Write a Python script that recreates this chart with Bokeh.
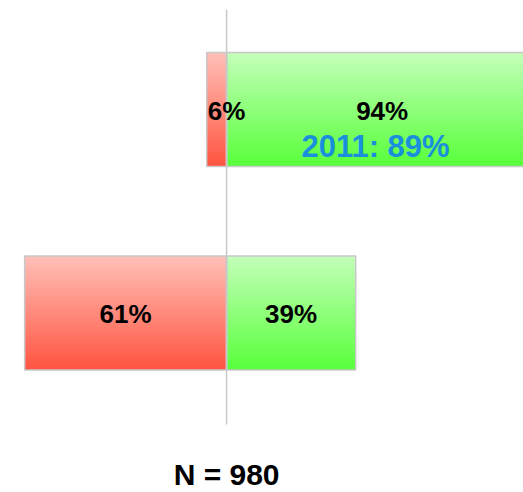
from bokeh.plotting import figure
from bokeh.models import Range1d, ColumnDataSource
from bokeh.core.properties import value
from bokeh.embed import file_html
from bokeh.resources import INLINE

# Rows from top to bottom; share of "no" (left, red) and "yes" (right, green)
rows = [1, 0]
no_share = [6, 61]
yes_share = [94, 39]
prev_year_label = ["2011: 89%", ""]
sample_label = "N = 980"

BAR_H = 0.56
FONT = value("Liberation Sans")
N_STRIPS = 40

p = figure(width=523, height=492, output_backend="svg", toolbar_location=None,
           x_range=Range1d(-68.3, 89.7), y_range=Range1d(-0.882, 1.536),
           min_border=0, min_border_left=0, min_border_right=0,
           min_border_top=0, min_border_bottom=0)
p.axis.visible = False
p.grid.visible = False
p.outline_line_color = None
p.background_fill_color = "white"


def lerp(c0, c1, t):
    return "#%02x%02x%02x" % tuple(int(round(a + (b - a) * t)) for a, b in zip(c0, c1))


RED_TOP, RED_BOT = (255, 192, 184), (255, 84, 64)
GRN_TOP, GRN_BOT = (196, 255, 186), (88, 255, 58)

# vertical gradient fills built from overlapping horizontal strips
strips = dict(left=[], right=[], top=[], bottom=[], color=[])
for y, neg, pos in zip(rows, no_share, yes_share):
    y0 = y - BAR_H / 2
    y1 = y + BAR_H / 2
    step = BAR_H / N_STRIPS
    for k in range(N_STRIPS):
        t = 1 - (k + 0.5) / N_STRIPS
        b = y0 + k * step
        tp = min(b + 3 * step, y1)
        strips["left"] += [-neg, 0]
        strips["right"] += [0, pos]
        strips["bottom"] += [b, b]
        strips["top"] += [tp, tp]
        strips["color"] += [lerp(RED_TOP, RED_BOT, t), lerp(GRN_TOP, GRN_BOT, t)]
p.quad(left="left", right="right", top="top", bottom="bottom", source=ColumnDataSource(strips),
       fill_color="color", line_color=None)

# bar outlines
bars = ColumnDataSource(dict(
    left=[-n for n in no_share] + [0] * len(rows),
    right=[0] * len(rows) + yes_share,
    top=[y + BAR_H / 2 for y in rows] * 2,
    bottom=[y - BAR_H / 2 for y in rows] * 2,
))
p.quad(left="left", right="right", top="top", bottom="bottom", source=bars,
       fill_color=None, line_color="#c8c8c8", line_width=1.5)

# zero line
p.segment(x0=[0], x1=[0], y0=[-0.548], y1=[1.49], line_color="#c8c8c8", line_width=1.5)

# value labels
neg_x = [-n / 2 for n in no_share]
neg_off = [10 if n < 10 else 0 for n in no_share]
labels = ColumnDataSource(dict(
    x=neg_x + [p_ / 2 for p_ in yes_share],
    y=rows + rows,
    text=[f"{n}%" for n in no_share] + [f"{v}%" for v in yes_share],
    xo=neg_off + [0] * len(rows),
))
p.text(x="x", y="y", text="text", x_offset="xo", source=labels, text_align="center",
       text_baseline="middle", text_font=FONT, text_font_style="bold",
       text_font_size="26px", text_color="black", y_offset=1)

prev = ColumnDataSource(dict(
    x=[v / 2 - 2 for v in yes_share], y=rows, text=prev_year_label,
))
p.text(x="x", y="y", text="text", source=prev, text_align="center", text_baseline="middle",
       text_font=FONT, text_font_style="bold", text_font_size="31px",
       text_color="#1a8fdc", y_offset=37)

p.text(x=[0], y=[-0.794], text=[sample_label], text_align="center", text_baseline="middle",
       text_font=FONT, text_font_style="bold", text_font_size="30px", text_color="black")

open("out.html", "w").write(file_html(p, INLINE))
